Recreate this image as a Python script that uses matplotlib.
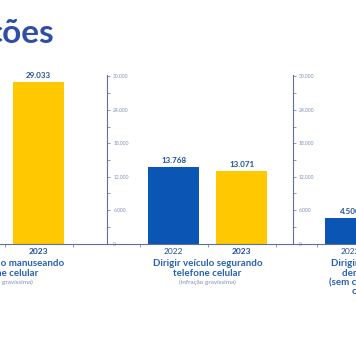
import numpy as np
import matplotlib
matplotlib.use("Agg")
import matplotlib.pyplot as plt

plt.rcParams['font.family'] = ['Lato', 'DejaVu Sans']

# data
years = ["2022", "2023"]
manuseando = [np.nan, 29033]      # 2022 bar is outside the cropped slide
segurando = [13768, 13071]
terceira = [4500, np.nan]         # 2023 bar is outside the cropped slide
yticks = [0, 6000, 12000, 18000, 24000, 30000]

titles = ["Dirigir veículo manuseando\ntelefone celular",
          "Dirigir veículo segurando\ntelefone celular",
          "Dirigir veículo utilizando\ndemais dispositivos\n(sem contato físico com o\ncelular na mão)"]
subtitles = ["(infração gravíssima)", "(infração gravíssima)", ""]

BLUE = "#0b55b4"
YELLOW = "#ffc800"
DARK = "#1f4f9e"
TXT = "#2761b5"
AXC = "#5f7199"
LIGHT = "#7f8fb5"

W, H = 356, 364
PPU = 68.0          # pixels per category unit
base_px = 243.5
top_px = 74.8

fig = plt.figure(figsize=(W / 100, H / 100), dpi=100)
fig.patch.set_facecolor("white")

fig.text(55 / W, 1 - 34 / H, "ções", ha="right", va="center",
         fontsize=24, fontweight="bold", color="#2e4fa3")


def panel(left_px, xmin, xmax, values, title, sub):
    ax = fig.add_axes([left_px / W, 1 - base_px / H,
                       (xmax - xmin) * PPU / W, (base_px - top_px) / H])
    ax.set_xlim(xmin, xmax)
    ax.set_ylim(0, 30300)
    x = np.arange(len(years))
    ax.bar(x, values, width=0.75, color=[BLUE, YELLOW])
    for xi, v in zip(x, values):
        if np.isnan(v):
            continue
        ax.annotate(f"{v:,.0f}".replace(",", "."), (xi, v), xytext=(0, 2.3),
                    textcoords="offset points", ha="center", va="bottom",
                    fontsize=5.8, fontweight="bold", color=DARK)
    for s in ["top", "right"]:
        ax.spines[s].set_visible(False)
    for s in ["left", "bottom"]:
        ax.spines[s].set_color(AXC)
        ax.spines[s].set_linewidth(0.8)

    ax.set_yticks(yticks)
    ax.set_yticklabels([f"{t:,}".replace(",", ".") for t in yticks])
    ax.set_yticks(np.arange(3000, 30000, 6000), minor=True)
    ax.tick_params(axis="y", which="both", direction="in", length=2.5,
                   width=0.5, color=AXC, pad=-4.5, labelsize=3.6,
                   labelcolor=LIGHT)
    for lab in ax.get_yticklabels():
        lab.set_horizontalalignment("left")

    ax.set_xticks(x)
    ax.set_xticklabels(years)
    ax.set_xticks([-0.5, 0.5, 1.5], minor=True)
    ax.tick_params(axis="x", which="major", length=0, pad=3,
                   labelsize=6, labelcolor=DARK)
    ax.tick_params(axis="x", which="minor", length=2, width=0.5,
                   color=AXC, direction="out")
    ax.get_xticklabels()[1].set_fontweight("bold")

    ax.annotate(title, (0.5, 0), xycoords=("data", "axes fraction"),
                xytext=(0, -11.2), textcoords="offset points", ha="center",
                va="top", fontsize=7, fontweight="bold", color=TXT,
                linespacing=1.08)
    if sub:
        ax.annotate(sub, (0.5, 0), xycoords=("data", "axes fraction"),
                    xytext=(0, -28), textcoords="offset points",
                    ha="center", va="center", fontsize=4.6, color=LIGHT)
    return ax


panel(38.5 - 1.98 * PPU, -0.98, 2.007, manuseando, titles[0], subtitles[0])
panel(107, -0.98, 1.75, segurando, titles[1], subtitles[1])
panel(292.5, -0.853, 1.75, terceira, titles[2], subtitles[2])

fig.savefig("out.png", dpi=100)
